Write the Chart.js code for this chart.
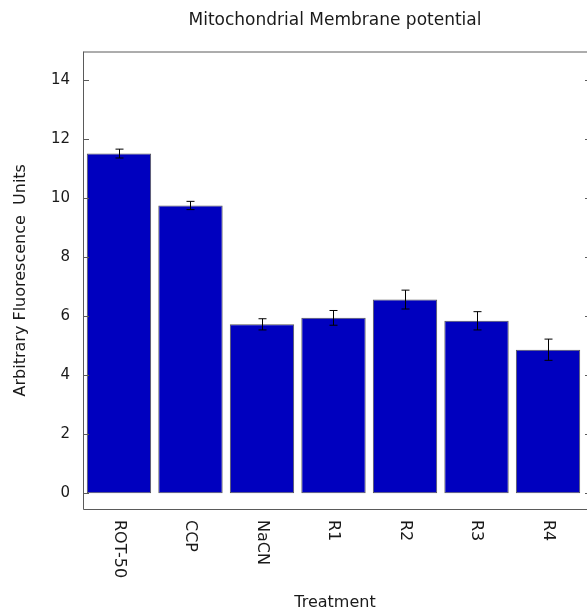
<!DOCTYPE html>
<html lang="en">
<head>
    <meta charset="UTF-8" />
    <title>Mitochondrial Membrane potential</title>
    <script src="https://cdn.jsdelivr.net/npm/chart.js"></script>
    <style>
        body {
            margin: 0;
            background: #ffffff;
        }
        #wrap {
            width: 587px;
            height: 611px;
        }
    </style>
</head>
<body>
    <div id="wrap"><canvas id="mmpChart" width="587" height="611"></canvas></div>

    <script>
        const treatments = ['ROT-50', 'CCP', 'NaCN', 'R1', 'R2', 'R3', 'R4'];
        const fluorescence = [11.52, 9.76, 5.73, 5.95, 6.57, 5.85, 4.87];
        const errors = [0.15, 0.14, 0.19, 0.25, 0.32, 0.31, 0.36];
        const yTicks = [0, 2, 4, 6, 8, 10, 12, 14];

        const FONT = 'DejaVu Sans';
        const TEXT = '#1a1a1a';
        const FRAME = '#5a5a5a';

        // frame, inward ticks, rotated category labels and error bars
        const extras = {
            id: 'extras',
            afterDatasetsDraw(chart) {
                const ctx = chart.ctx;
                const area = chart.chartArea;
                const y = chart.scales.y;
                const meta = chart.getDatasetMeta(0);

                ctx.save();
                ctx.strokeStyle = '#000000';
                ctx.lineWidth = 1;
                meta.data.forEach((bar, i) => {
                    const x = Math.round(bar.x) + 0.5;
                    const top = y.getPixelForValue(fluorescence[i] + errors[i]);
                    const bot = y.getPixelForValue(fluorescence[i] - errors[i]);
                    ctx.beginPath();
                    ctx.moveTo(x, top);
                    ctx.lineTo(x, bot);
                    ctx.moveTo(x - 4, top);
                    ctx.lineTo(x + 4, top);
                    ctx.moveTo(x - 4, bot);
                    ctx.lineTo(x + 4, bot);
                    ctx.stroke();
                });

                ctx.strokeStyle = FRAME;
                ctx.beginPath();
                ctx.moveTo(area.left + 0.5, area.top + 0.5);
                ctx.lineTo(area.right, area.top + 0.5);
                ctx.moveTo(area.left + 0.5, area.top);
                ctx.lineTo(area.left + 0.5, area.bottom + 0.5);
                ctx.lineTo(area.right, area.bottom + 0.5);
                yTicks.forEach(t => {
                    const py = Math.round(y.getPixelForValue(t)) + 0.5;
                    ctx.moveTo(area.left, py);
                    ctx.lineTo(area.left + 6, py);
                    ctx.moveTo(area.right - 2, py);
                    ctx.lineTo(area.right, py);
                });
                ctx.stroke();

                ctx.fillStyle = TEXT;
                ctx.font = '16px "' + FONT + '"';
                ctx.textAlign = 'left';
                ctx.textBaseline = 'middle';
                meta.data.forEach((bar, i) => {
                    ctx.save();
                    ctx.translate(bar.x, area.bottom + 11);
                    ctx.rotate(Math.PI / 2);
                    ctx.fillText(treatments[i], 0, 0);
                    ctx.restore();
                });
                ctx.restore();
            }
        };

        new Chart(document.getElementById('mmpChart'), {
            type: 'bar',
            data: {
                datasets: [{
                    label: 'Arbitrary Fluorescence Units',
                    data: fluorescence.map((v, i) => ({ x: i, y: v })),
                    backgroundColor: '#0000bf',
                    borderColor: '#555555',
                    borderWidth: 1,
                    borderSkipped: false,
                    barPercentage: 0.9,
                    categoryPercentage: 1.0
                }]
            },
            options: {
                responsive: false,
                animation: false,
                layout: { padding: 0 },
                plugins: {
                    legend: { display: false },
                    tooltip: { enabled: false },
                    title: {
                        display: true,
                        text: 'Mitochondrial Membrane potential',
                        fullSize: false,
                        color: TEXT,
                        font: { family: FONT, size: 17, weight: 'normal' },
                        padding: { top: 10.8, bottom: 20.3 }
                    }
                },
                scales: {
                    x: {
                        type: 'linear',
                        offset: false,
                        min: -0.503,
                        max: 6.545,
                        grid: { display: false, drawTicks: false },
                        border: { display: false },
                        ticks: { display: false },
                        title: {
                            display: true,
                            text: 'Treatment',
                            color: TEXT,
                            font: { family: FONT, size: 16, lineHeight: 1 },
                            padding: { top: 0, bottom: 0 }
                        },
                        afterFit(scale) { scale.height = 102; }
                    },
                    y: {
                        min: -0.53,
                        max: 14.98,
                        grid: { display: false, drawTicks: false },
                        border: { display: false },
                        ticks: {
                            stepSize: 2,
                            includeBounds: false,
                            padding: 13,
                            color: TEXT,
                            font: { family: FONT, size: 15 }
                        },
                        title: {
                            display: true,
                            text: 'Arbitrary Fluorescence  Units',
                            color: TEXT,
                            font: { family: FONT, size: 16 },
                            padding: { top: 11, bottom: 0 }
                        },
                        afterFit(scale) { scale.width = 83; }
                    }
                }
            },
            plugins: [extras]
        });
    </script>
</body>
</html>
